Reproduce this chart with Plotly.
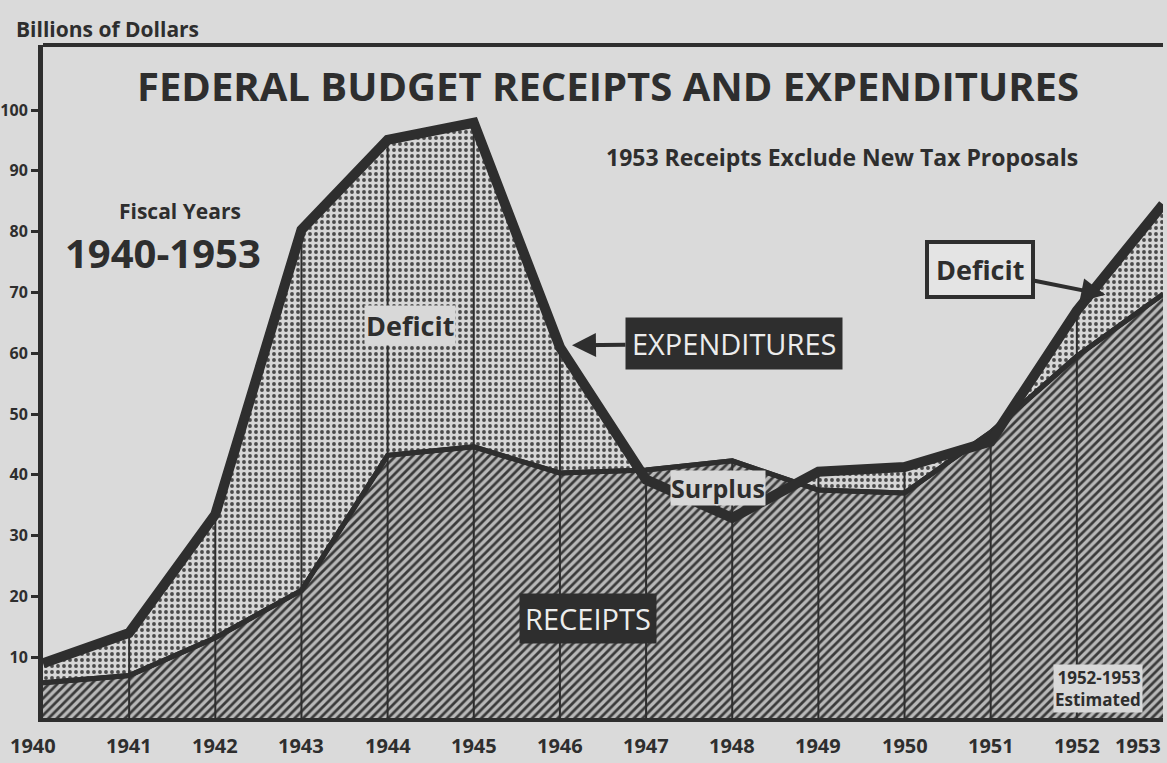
import plotly.graph_objects as go
import numpy as np

# Fiscal years
years = [1940, 1941, 1942, 1943, 1944, 1945, 1946, 1947, 1948, 1949, 1950, 1951, 1952, 1953]
year_labels = ["1940", "1941", "1942", "1943", "1944", "1945", "1946", "1947", "1948",
               "1949", "1950", "1951", "1952", "1953"]
# Billions of dollars
expenditures = [9.0, 14.0, 33.5, 80.3, 95.1, 97.9, 61.0, 39.2, 32.9, 40.5, 41.3, 45.5, 67.0, 84.5]
receipts = [5.8, 7.0, 13.2, 21.0, 43.2, 44.6, 40.3, 40.8, 42.3, 37.5, 37.0, 47.0, 59.5, 69.7]
y_ticks = [10, 20, 30, 40, 50, 60, 70, 80, 90, 100]

INK = "#2e2e2e"
PAPER = "#dadada"
BOLD = "Open Sans, sans-serif"

fig = go.Figure()

# Deficit area (dotted) under expenditures
fig.add_trace(go.Scatter(
    x=years, y=expenditures, mode="lines", fill="tozeroy",
    line=dict(width=0, color=INK),
    fillpattern=dict(shape=".", fgcolor="#4a4a4a", bgcolor="#d6d6d6", size=6, solidity=0.32, fillmode="replace"),
    hoverinfo="skip", showlegend=False))

# Receipts area (hatched)
fig.add_trace(go.Scatter(
    x=years, y=receipts, mode="lines", fill="tozeroy",
    line=dict(width=5, color=INK),
    fillpattern=dict(shape="/", fgcolor="#3a3a3a", bgcolor="#b8b8b8", size=6, solidity=0.45, fillmode="replace"),
    hoverinfo="skip", showlegend=False))

# Vertical year rules inside the filled area
top = np.maximum(expenditures, receipts)
vx, vy = [], []
for yr, t in zip(years[1:-1], top[1:-1]):
    vx += [yr, yr, None]
    vy += [0, float(t), None]
fig.add_trace(go.Scatter(x=vx, y=vy, mode="lines", line=dict(width=2, color=INK),
                         hoverinfo="skip", showlegend=False))

# Receipts line on top
fig.add_trace(go.Scatter(x=years, y=receipts, mode="lines", line=dict(width=5, color=INK),
                         hoverinfo="skip", showlegend=False))
# Expenditures thick line
fig.add_trace(go.Scatter(x=years, y=expenditures, mode="lines",
                         line=dict(width=10, color=INK, shape="linear"),
                         hoverinfo="skip", showlegend=False))

ann = []
ann.append(dict(text="<b>FEDERAL BUDGET RECEIPTS AND EXPENDITURES</b>", x=1946.56, y=104.1,
                xref="x", yref="y", showarrow=False, font=dict(family=BOLD, size=40, color=INK)))
ann.append(dict(text="<b>1953 Receipts Exclude New Tax Proposals</b>", x=1949.27, y=92.3,
                xref="x", yref="y", showarrow=False, font=dict(family=BOLD, size=23, color=INK)))
ann.append(dict(text="<b>Fiscal Years</b>", x=1941.59, y=83.4, xref="x", yref="y", showarrow=False,
                font=dict(family=BOLD, size=21, color=INK)))
ann.append(dict(text="<b>1940-1953</b>", x=1941.39, y=76.6, xref="x", yref="y", showarrow=False,
                font=dict(family=BOLD, size=40, color=INK)))
ann.append(dict(text="<b>Deficit</b>", x=1944.26, y=64.6, xref="x", yref="y", showarrow=False,
                font=dict(family=BOLD, size=27, color=INK), bgcolor="#d8d8d8"))
ann.append(dict(text="EXPENDITURES", x=1946.14, y=61.3, xref="x", yref="y",
                showarrow=True, ax=162, ay=-2, arrowhead=2, arrowsize=1.2, arrowwidth=4, arrowcolor=INK,
                font=dict(family="Open Sans, sans-serif", size=29, color="#ececec"),
                bgcolor=INK, borderpad=6))
ann.append(dict(text="<b>Surplus</b>", x=1947.83, y=37.8, xref="x", yref="y", showarrow=False,
                font=dict(family=BOLD, size=25, color=INK), bgcolor="#d8d8d8", borderpad=0))
ann.append(dict(text="RECEIPTS", x=1946.33, y=16.4, xref="x", yref="y", showarrow=False,
                font=dict(family="Open Sans, sans-serif", size=29, color="#ececec"),
                bgcolor=INK, borderpad=5))
ann.append(dict(text="<b>Deficit</b>", x=1952.33, y=69.6, xref="x", yref="y",
                showarrow=True, ax=-125, ay=-25, arrowhead=2, arrowsize=1.2, arrowwidth=4, arrowcolor=INK,
                font=dict(family=BOLD, size=27, color=INK), bgcolor="#e4e4e4",
                bordercolor=INK, borderwidth=4, borderpad=7))
ann.append(dict(text="<b>1952-1953<br>Estimated</b>", x=1952.25, y=4.9, xref="x", yref="y", showarrow=False,
                font=dict(family=BOLD, size=17, color=INK), bgcolor="#d8d8d8", align="right"))
ann.append(dict(text="<b>Billions of Dollars</b>", x=-0.026, y=1.0, xref="paper", yref="paper",
                xanchor="left", yanchor="bottom", showarrow=False,
                font=dict(family=BOLD, size=21, color=INK)))

# Year labels along the x axis (last one kept inside the page)
for yr, lab in zip(years, year_labels):
    anchor = "right" if yr == years[-1] else ("left" if yr == years[0] else "center")
    ann.append(dict(text="<b>" + lab + "</b>", x=yr, y=0, xref="x", yref="paper",
                    xanchor=anchor, yanchor="top", yshift=-12, xshift=(-35 if yr == years[0] else 0),
                    showarrow=False, font=dict(family=BOLD, size=20, color=INK)))

fig.update_layout(
    width=1167, height=763,
    margin=dict(l=43, r=4, t=45, b=45, autoexpand=False),
    paper_bgcolor=PAPER, plot_bgcolor=PAPER,
    annotations=ann,
    shapes=[dict(type="line", xref="paper", yref="paper", x0=0, x1=1, y0=1, y1=1,
                 line=dict(color=INK, width=4))],
)
fig.update_xaxes(range=[1940, 1953], tickvals=years, showticklabels=False,
                 automargin=False,
                 showgrid=False, zeroline=False, showline=True, linewidth=4, linecolor=INK,
                 ticks="")
fig.update_yaxes(range=[0, 110.7], tickvals=y_ticks, showgrid=False, zeroline=False,
                 automargin=False, ticklabeloverflow="allow",
                 showline=True, linewidth=5, linecolor=INK, ticks="outside", ticklen=7, tickwidth=3,
                 tickcolor=INK, tickfont=dict(family=BOLD, size=16, color=INK, weight="bold"))

fig.write_html("out.html", config={"displayModeBar": False},
               post_script="document.body.style.margin='0';document.body.style.background='#dadada';document.body.style.overflow='hidden';")
